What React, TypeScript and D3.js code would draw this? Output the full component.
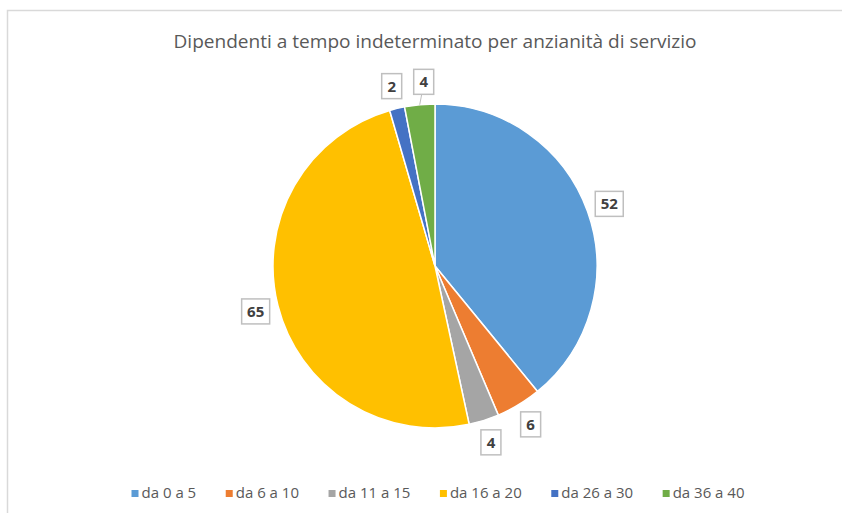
import React, { useEffect, useRef } from 'react';
import * as d3 from 'd3';

const title = 'Dipendenti a tempo indeterminato per anzianità di servizio';
const categories = ['da 0 a 5', 'da 6 a 10', 'da 11 a 15', 'da 16 a 20', 'da 26 a 30', 'da 36 a 40'];
const values = [52, 6, 4, 65, 2, 4];
const colors = ['#5B9BD5', '#ED7D31', '#A5A5A5', '#FFC000', '#4472C4', '#70AD47'];

const W = 842;
const H = 513;
const FONT = '"Open Sans", Lato, sans-serif';

export default function App() {
  const ref = useRef<SVGSVGElement | null>(null);

  useEffect(() => {
    document.body.style.margin = '0';
    const svg = d3.select(ref.current);
    svg.selectAll('*').remove();

    // chart frame (only top and left edges are visible in the crop)
    svg.append('path')
      .attr('d', `M7.5,${H} V10.5 H${W}`)
      .attr('fill', 'none')
      .attr('stroke', '#d9d9d9')
      .attr('stroke-width', 1.5);

    const tt = svg.append('text')
      .attr('x', 435).attr('y', 48)
      .attr('text-anchor', 'middle')
      .style('font-family', FONT).style('font-size', '17.5px')
      .attr('fill', '#595959')
      .text(title);
    const tw = (tt.node() as SVGTextElement).getComputedTextLength();
    if (Math.abs(tw - 523) > 8) tt.attr('textLength', 523).attr('lengthAdjust', 'spacingAndGlyphs');

    const cx = 435, cy = 266, r = 162;
    const data = categories.map((c, i) => ({ c, v: values[i], col: colors[i] }));
    const pie = d3.pie<any>().value((d) => d.v).sort(null);
    const arcs = pie(data);
    const arc = d3.arc<any>().innerRadius(0).outerRadius(r);
    const labelArc = d3.arc<any>().innerRadius(r + 23).outerRadius(r + 23);
    const edgeArc = d3.arc<any>().innerRadius(r).outerRadius(r);

    const g = svg.append('g').attr('transform', `translate(${cx},${cy})`);
    g.selectAll('path.slice').data(arcs).enter().append('path')
      .attr('class', 'slice')
      .attr('d', arc)
      .attr('fill', (d) => d.data.col)
      .attr('stroke', '#fff')
      .attr('stroke-width', 1.5);

    // data labels, outside end, nudged apart when they collide
    const labels = arcs.map((a) => {
      const [x, y] = labelArc.centroid(a);
      const txt = String(a.data.v);
      const w = txt.length * 8 + 12;
      return { a, x, y, x0: x, y0: y, txt, w, h: 25 };
    });
    for (let i = 1; i < labels.length; i++) {
      const p = labels[i - 1], l = labels[i];
      if (Math.abs(p.y - l.y) < l.h) {
        const minGap = (p.w + l.w) / 2 + 12;
        if (l.x > p.x - 4 && l.x - p.x < minGap) l.x = p.x + minGap;
      }
    }

    const lg = g.selectAll('g.lbl').data(labels).enter().append('g').attr('class', 'lbl');
    lg.filter((d) => Math.abs(d.x - d.x0) > 2)
      .append('line')
      .attr('x1', (d) => d.x - 2).attr('y1', (d) => d.y + d.h / 2)
      .attr('x2', (d) => edgeArc.centroid(d.a)[0]).attr('y2', (d) => edgeArc.centroid(d.a)[1])
      .attr('stroke', '#bfbfbf').attr('stroke-width', 1);
    lg.append('rect')
      .attr('x', (d) => d.x - d.w / 2).attr('y', (d) => d.y - d.h / 2)
      .attr('width', (d) => d.w).attr('height', (d) => d.h)
      .attr('fill', '#fff').attr('stroke', '#bfbfbf').attr('stroke-width', 1.5);
    lg.append('text')
      .attr('x', (d) => d.x).attr('y', (d) => d.y + 5.5)
      .attr('text-anchor', 'middle')
      .style('font-family', FONT).style('font-size', '15px').style('font-weight', 'bold')
      .attr('fill', '#404040')
      .text((d) => d.txt);

    // legend, spread across the same span as the reference (about 613px)
    const leg = svg.append('g');
    const items = leg.selectAll('g').data(data).enter().append('g');
    items.append('rect').attr('width', 7).attr('height', 7).attr('y', -8).attr('fill', (d) => d.col);
    items.append('text').attr('x', 10)
      .style('font-family', FONT).style('font-size', '15px')
      .attr('fill', '#595959')
      .text((d) => d.c);
    const widths: number[] = [];
    items.each(function () {
      const t = d3.select(this).select('text').node() as SVGTextElement;
      widths.push(10 + t.getComputedTextLength());
    });
    const span = 613;
    const gap = Math.max(14, (span - d3.sum(widths)) / (widths.length - 1));
    let x = 0;
    items.each(function (_d, i) {
      d3.select(this).attr('transform', `translate(${x},0)`);
      x += widths[i] + gap;
    });
    const total = x - gap;
    leg.attr('transform', `translate(${438 - total / 2},498)`);
  }, []);

  return <svg ref={ref} width={W} height={H} style={{ display: 'block', background: '#fff' }} />;
}
